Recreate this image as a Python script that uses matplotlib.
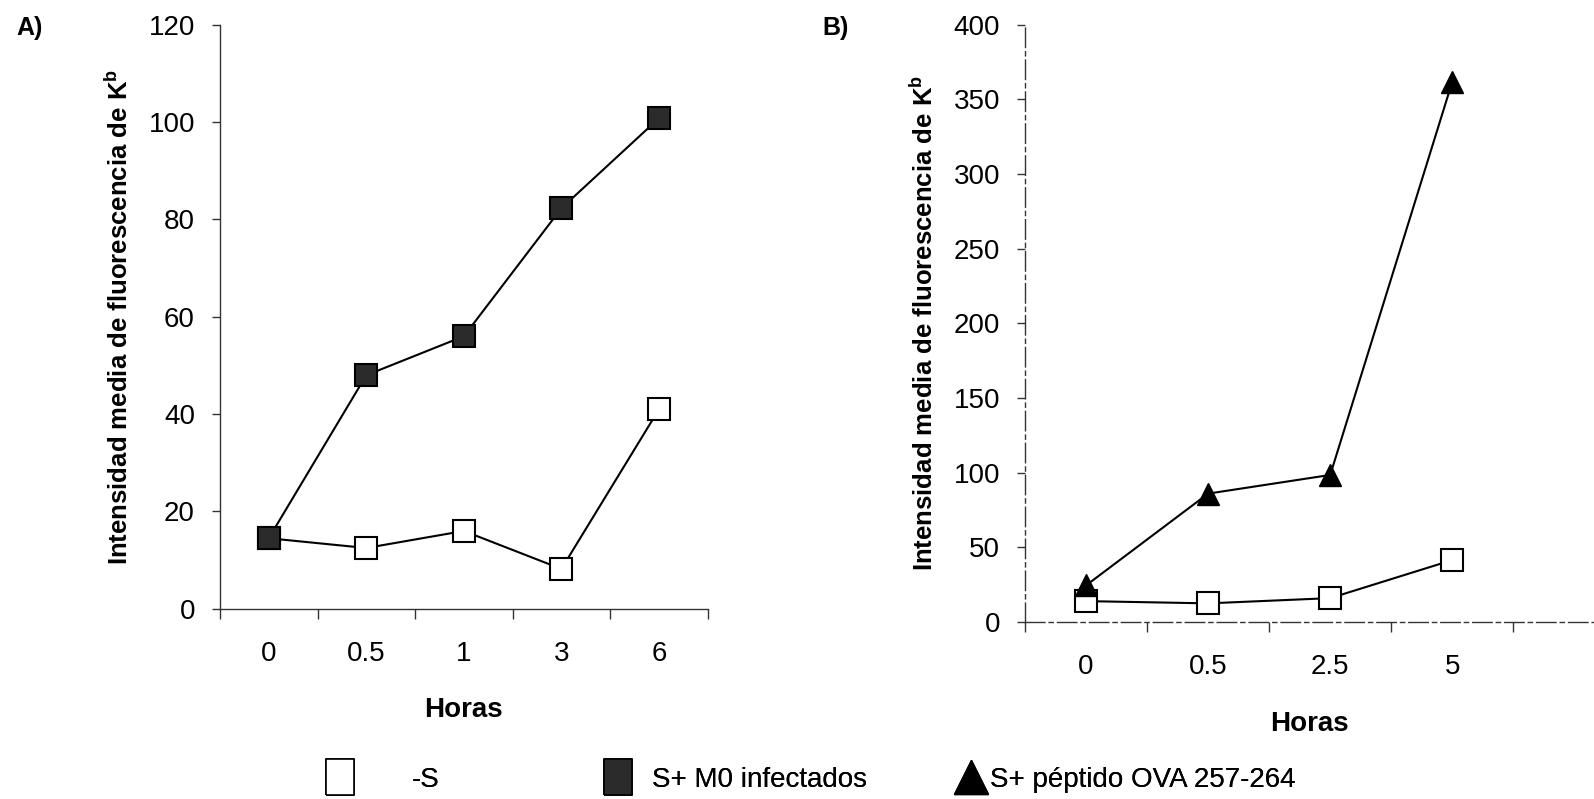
import numpy as np
import matplotlib.pyplot as plt
from matplotlib.lines import Line2D

plt.rcParams['font.family'] = ['Liberation Sans', 'DejaVu Sans']

# panel A data
horas_a = ["0", "0.5", "1", "3", "6"]
menos_s_a = [14.5, 12.5, 16, 8.2, 41]
m0_infectados = [14.5, 48, 56, 82.3, 100.8]

# panel B data
horas_b = ["0", "0.5", "2.5", "5"]
menos_s_b = [14, 12.5, 16, 41.5]
ova_peptido = [24.5, 86, 98.5, 362]

ylabel = "Intensidad media de fluorescencia de K$^{\\mathregular{b}}$"


def style_axis(ax, ncat, xmax, ymax, ystep, dashed=False):
    ax.spines['top'].set_visible(False)
    ax.spines['right'].set_visible(False)
    for s in ['left', 'bottom']:
        ax.spines[s].set_linewidth(1.0)
        ax.spines[s].set_color('#333333')
        if dashed:
            ax.spines[s].set_linestyle((0, (14, 3, 3, 3)))
    ax.set_xlim(-0.5, xmax)
    ax.set_ylim(0, ymax)
    ax.set_yticks(np.arange(0, ymax + 1, ystep))
    ax.set_xticks(np.arange(ncat))
    ax.set_xticks(np.arange(ncat + 1) - 0.5, minor=True)
    ax.tick_params(axis='x', which='major', length=0, pad=23, labelsize=20)
    ax.tick_params(axis='x', which='minor', length=7, width=1, color='#333333')
    ax.tick_params(axis='y', length=6, width=1, color='#333333', pad=12,
                   labelsize=20)
    ax.set_xlabel("Horas", fontsize=20, fontweight='bold', labelpad=22)
    ax.set_ylabel(ylabel, fontsize=18.5, fontweight='bold', labelpad=11)


fig = plt.figure(figsize=(15.94, 7.99), dpi=100)

ax1 = fig.add_axes([0.138, 0.238, 0.306, 0.731])
x = np.arange(len(horas_a))
ax1.plot(x, menos_s_a, color='black', lw=1.5, marker='s', ms=16,
         mfc='white', mec='black', mew=1.5, zorder=3)
ax1.plot(x, m0_infectados, color='black', lw=1.5, marker='s', ms=16,
         mfc='#2b2b2b', mec='black', mew=1.5, zorder=4)
style_axis(ax1, len(horas_a), len(horas_a) - 0.5, 120, 20)
ax1.set_xticklabels(horas_a)

ax2 = fig.add_axes([0.643, 0.2215, 0.357, 0.7475])
x = np.arange(len(horas_b))
ax2.plot(x, menos_s_b, color='black', lw=1.5, marker='s', ms=16,
         mfc='white', mec='black', mew=1.5, zorder=3)
ax2.plot(x, ova_peptido, color='black', lw=1.5, marker='^', ms=16,
         mfc='black', mec='black', mew=1, zorder=4)
style_axis(ax2, len(horas_b), 4.16, 400, 50, dashed=True)
ax2.set_xticklabels(horas_b)

fig.text(0.01, 0.965, "A)", fontsize=18, fontweight='bold', va='center')
fig.text(0.516, 0.965, "B)", fontsize=18, fontweight='bold', va='center')

# legend: one entry per box so each sits where the original had it
rect = [(-0.8, -1), (0.8, -1), (0.8, 1), (-0.8, 1), (-0.8, -1)]
entries = [
    (Line2D([], [], ls='none', marker=rect, ms=26, mfc='white', mec='black',
            mew=1.2), "-S", 324.5, 2.03),
    (Line2D([], [], ls='none', marker=rect, ms=26, mfc='#2b2b2b', mec='black',
            mew=1.2), "S+ M0 infectados", 602.5, 0.70),
    (Line2D([], [], ls='none', marker='^', ms=24, mfc='black', mec='black'),
     "S+ péptido OVA 257-264", 955.5, 0.16),
]
for h, lab, left_px, tpad in entries:
    leg = fig.legend([h], [lab], loc='center left',
                     bbox_to_anchor=(left_px / 1594, 0.024),
                     frameon=False, fontsize=20, handlelength=1.1,
                     handletextpad=tpad, borderpad=0, borderaxespad=0)
    fig.add_artist(leg)

fig.savefig('out.png', dpi=100)
